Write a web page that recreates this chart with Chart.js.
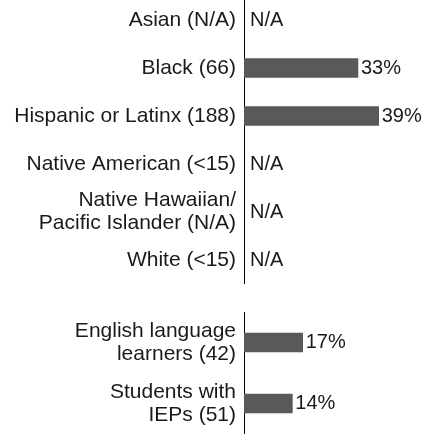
<!DOCTYPE html>
<html>
<head>
<meta charset="utf-8">
<script src="https://cdn.jsdelivr.net/npm/chart.js@4.4.1/dist/chart.umd.min.js"></script>
<style>
  html, body { margin: 0; padding: 0; background: #fff; overflow: hidden; }
  body { width: 427px; height: 436px; position: relative; }
  .box { position: absolute; left: 0; width: 427px; }
  #topBox { top: -4px; height: 288px; }
  #bottomBox { top: 312px; height: 122px; }
  canvas { display: block; }
</style>
</head>
<body>
<div class="box" id="topBox"><canvas id="topChart" width="427" height="288"></canvas></div>
<div class="box" id="bottomBox"><canvas id="bottomChart" width="427" height="122"></canvas></div>
<script>
// ---- Data ----
const categoriesTop = [
  'Asian (N/A)',
  'Black (66)',
  'Hispanic or Latinx (188)',
  'Native American (<15)',
  ['Native Hawaiian/', 'Pacific Islander (N/A)'],
  'White (<15)'
];
const valuesTop = [null, 33, 39, null, null, null];

const categoriesBottom = [
  ['English language', 'learners (42)'],
  ['Students with', 'IEPs (51)']
];
const valuesBottom = [17, 14];

const xMin = 0;
const xMax = 53;
const naText = 'N/A';

// ---- Styling ----
const FONT = '"Liberation Sans", Arial, Helvetica, sans-serif';
const TEXT = '#1a1a1a';
const BAR = '#595959';

const valueLabels = {
  id: 'valueLabels',
  afterDatasetsDraw(chart) {
    const ctx = chart.ctx;
    const xs = chart.scales.x, ys = chart.scales.y;
    ctx.save();
    ctx.font = '20px ' + FONT;
    ctx.fillStyle = TEXT;
    ctx.textAlign = 'left';
    ctx.textBaseline = 'middle';
    chart.data.datasets.forEach((ds, di) => {
      const meta = chart.getDatasetMeta(di);
      ds.data.forEach((v, i) => {
        const y = ys.getPixelForValue(i);
        if (v === null || v === undefined) {
          ctx.fillText(naText, xs.getPixelForValue(0) + 6, y);
        } else {
          ctx.fillText(v + '%', meta.data[i].x + 3, y);
        }
      });
    });
    ctx.restore();
  }
};

function makeChart(id, labels, values) {
  return new Chart(document.getElementById(id), {
    type: 'bar',
    data: {
      labels: labels,
      datasets: [{
        data: values,
        backgroundColor: BAR,
        borderWidth: 0,
        barThickness: 19
      }]
    },
    options: {
      indexAxis: 'y',
      responsive: false,
      devicePixelRatio: 1,
      animation: false,
      layout: { padding: 0 },
      plugins: { legend: { display: false }, tooltip: { enabled: false } },
      scales: {
        x: { display: false, min: xMin, max: xMax },
        y: {
          grid: { display: false, drawTicks: false },
          border: { display: true, color: '#000', width: 1 },
          ticks: {
            color: TEXT,
            padding: 8,
            autoSkip: false,
            font: { family: FONT, size: 21, lineHeight: 1.1 }
          },
          afterFit(scale) {
            scale.width = 244;
            scale.paddingTop = 0;
            scale.paddingBottom = 0;
          }
        }
      }
    },
    plugins: [valueLabels]
  });
}

makeChart('topChart', categoriesTop, valuesTop);
makeChart('bottomChart', categoriesBottom, valuesBottom);
</script>
</body>
</html>
